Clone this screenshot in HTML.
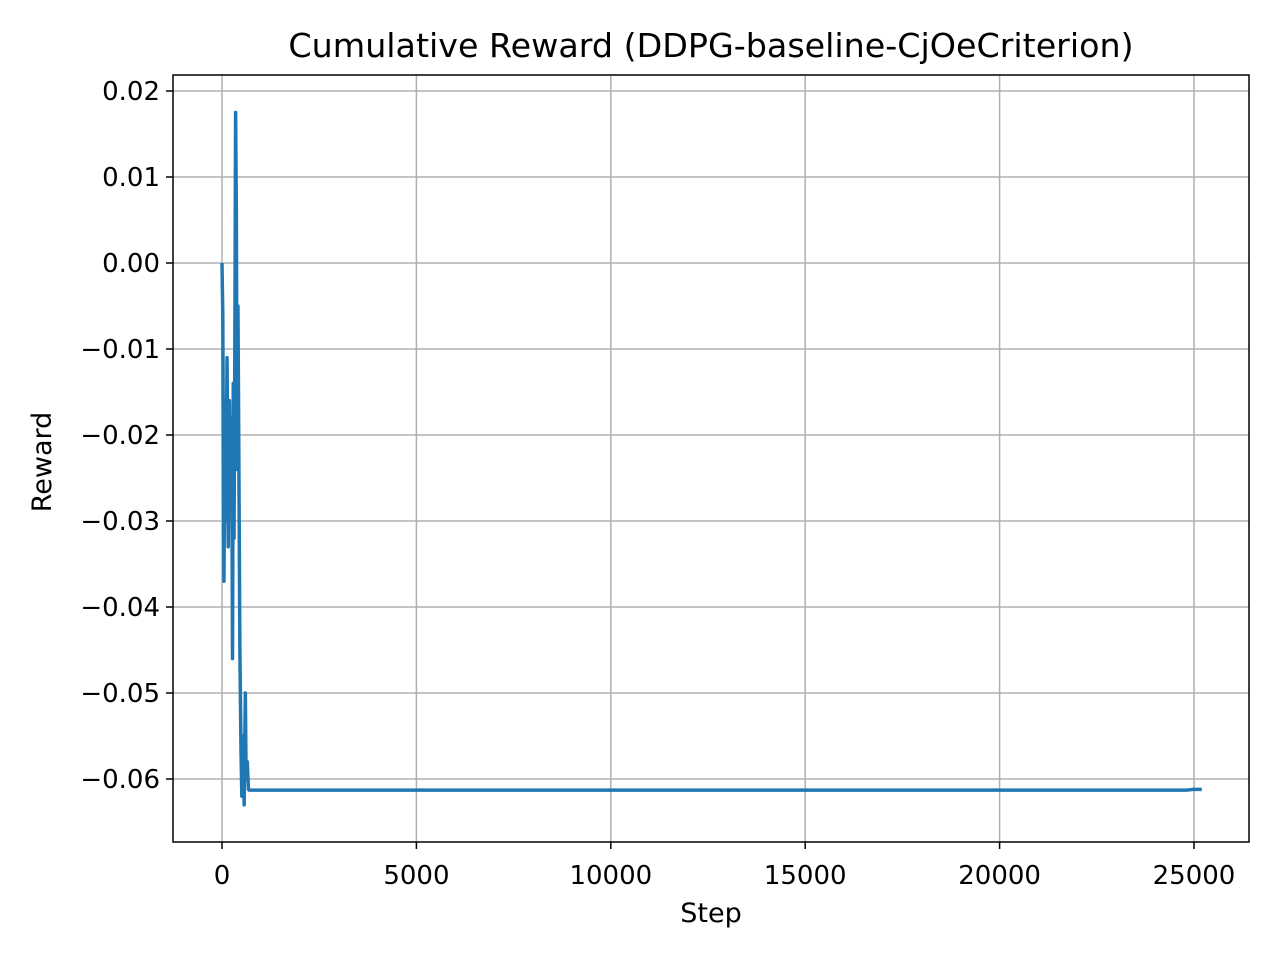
<!DOCTYPE html>
<html><head><meta charset="utf-8"><style>
body{margin:0;background:#fff;font-family:"Liberation Sans","DejaVu Sans",sans-serif}
</style></head><body>
<svg id="chart" width="1280" height="960" style="font-family:'DejaVu Sans','Liberation Sans',sans-serif">
<rect width="1280" height="960" fill="#fff"/>
<text x="711" y="57" text-anchor="middle" font-size="33.3">Cumulative Reward (DDPG-baseline-CjOeCriterion)</text>
<g id="grid"></g>
<g id="ticks"></g>
<path id="line" fill="none" stroke="#1f77b4" stroke-width="3.5" stroke-linejoin="round"/>
<rect x="173" y="75" width="1076" height="767" fill="none" stroke="#000" stroke-width="1.5"/>
<text x="711" y="922" text-anchor="middle" font-size="27">Step</text>
<text transform="translate(51,462) rotate(-90)" text-anchor="middle" font-size="27">Reward</text>
</svg>
<script>
const steps=[0,20,50,80,100,130,160,190,220,250,270,290,310,330,350,370,390,410,430,460,490,510,540,570,600,620,650,680,700,24800,25000,25200];
const rewards=[0,-0.006,-0.037,-0.016,-0.03,-0.011,-0.033,-0.016,-0.028,-0.018,-0.046,-0.014,-0.032,-0.01,0.0175,0.005,-0.024,-0.005,-0.02,-0.045,-0.057,-0.062,-0.055,-0.063,-0.05,-0.06,-0.058,-0.0612,-0.0613,-0.0613,-0.0612,-0.0612];
const xTicks=[0,5000,10000,15000,20000,25000];
const yTicks=[0.02,0.01,0,-0.01,-0.02,-0.03,-0.04,-0.05,-0.06];
const yLabels=["0.02","0.01","0.00","\u22120.01","\u22120.02","\u22120.03","\u22120.04","\u22120.05","\u22120.06"];
const X=v=>222+v*(1194-222)/25000;
const Y=v=>263-v*8600;
const NS="http://www.w3.org/2000/svg";
const grid=document.getElementById('grid'),ticks=document.getElementById('ticks');
function mk(tag,attrs,parent,txt){const e=document.createElementNS(NS,tag);for(const k in attrs)e.setAttribute(k,attrs[k]);if(txt!==undefined)e.textContent=txt;parent.appendChild(e);return e;}
xTicks.forEach(t=>{const x=X(t);
const g=mk('line',{x1:x,x2:x,y1:75,y2:842,stroke:'#b0b0b0','stroke-width':1.5},grid);


mk('line',{x1:x,x2:x,y1:842,y2:849,stroke:'#000','stroke-width':1.5},ticks);
const l=mk('text',{x:x,y:884,'text-anchor':'middle','font-size':26},ticks,String(t));

});
yTicks.forEach((t,i)=>{const y=Y(t);
const g=mk('line',{x1:173,x2:1249,y1:y,y2:y,stroke:'#b0b0b0','stroke-width':1.5},grid);


mk('line',{x1:166,x2:173,y1:y,y2:y,stroke:'#000','stroke-width':1.5},ticks);
const l=mk('text',{x:160,y:y+9,'text-anchor':'end','font-size':26},ticks,yLabels[i]);

});
document.getElementById('line').setAttribute('d',steps.map((s,i)=>(i?'L':'M')+X(s).toFixed(2)+','+Y(rewards[i]).toFixed(2)).join(''));
</script>
</body></html>
